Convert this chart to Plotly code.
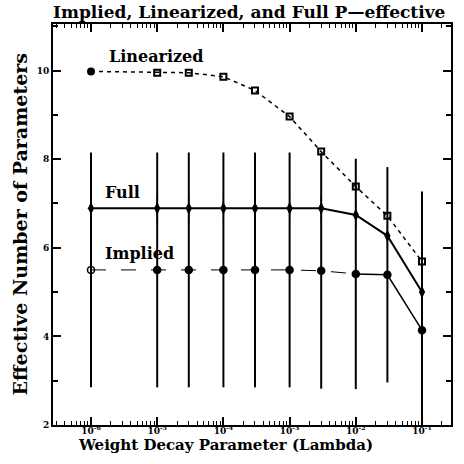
import plotly.graph_objects as go

# Data
lam = [1e-6, 1e-5, 3e-5, 1e-4, 3e-4, 1e-3, 3e-3, 1e-2, 3e-2, 1e-1]
linearized = [9.98, 9.95, 9.95, 9.86, 9.55, 8.96, 8.17, 7.38, 6.72, 5.69]
full = [6.89, 6.89, 6.89, 6.89, 6.89, 6.89, 6.89, 6.74, 6.27, 5.00]
full_err = [0.3, 0.3, 0.3, 0.3, 0.3, 0.3, 0.3, 0.3, 0.3, 0.3]
implied = [5.50, 5.50, 5.50, 5.50, 5.50, 5.50, 5.48, 5.41, 5.39, 4.14]
implied_err = [2.65, 2.65, 2.65, 2.65, 2.65, 2.65, 2.66, 2.6, 2.43, 3.13]
xtick_vals = [1e-6, 1e-5, 1e-4, 1e-3, 1e-2, 1e-1]
xtick_text = ["10<sup>-6</sup>", "10<sup>-5</sup>", "10<sup>-4</sup>",
              "10<sup>-3</sup>", "10<sup>-2</sup>", "10<sup>-1</sup>"]
ytick_vals = [2, 4, 6, 8, 10]
ytick_minor = [3, 5, 7, 9, 11]

FONT = "DejaVu Serif"
fig = go.Figure()

# Implied: error bars + dashed line for first part, solid afterwards
fig.add_trace(go.Scatter(
    x=lam, y=implied, mode="markers",
    error_y=dict(type="data", array=implied_err, visible=True, width=0,
                 thickness=2, color="black"),
    marker=dict(symbol=["circle-open"] + ["circle"] * 9, size=7, color="black",
                line=dict(color="black", width=1.5)),
    showlegend=False))
fig.add_trace(go.Scatter(
    x=lam[:8], y=implied[:8], mode="lines",
    line=dict(color="black", width=1, dash="longdash"), showlegend=False))
fig.add_trace(go.Scatter(
    x=lam[7:], y=implied[7:], mode="lines",
    line=dict(color="black", width=1.5), showlegend=False))

# Linearized
fig.add_trace(go.Scatter(
    x=lam, y=linearized, mode="lines+markers",
    line=dict(color="black", width=1.5, dash="4px,4px"),
    marker=dict(symbol=["circle"] + ["square-open"] * 9, size=6, color="black",
                line=dict(color="black", width=2)),
    showlegend=False))

# Full
fig.add_trace(go.Scatter(
    x=lam, y=full, mode="lines+markers",
    error_y=dict(type="data", array=full_err, visible=True, width=0,
                 thickness=1, color="black"),
    line=dict(color="black", width=2),
    marker=dict(symbol="diamond-tall", size=9, color="black"),
    showlegend=False))

axis_common = dict(showgrid=False, zeroline=False, showline=True, linecolor="black",
                   linewidth=2, mirror="allticks", ticks="inside", ticklen=8,
                   tickwidth=1.5, tickcolor="black",
                   tickfont=dict(family=FONT, size=9, color="black", weight="bold"))

fig.update_xaxes(type="log", range=[-6.574, -0.562], tickmode="array",
                 tickvals=xtick_vals, ticktext=xtick_text, ticklabelstandoff=-4,
                 minor=dict(tickvals=[m * 10.0 ** e for e in range(-7, 0) for m in range(2, 10)],
                            ticks="inside", ticklen=4, tickcolor="black", tickwidth=1),
                 **axis_common)
fig.update_yaxes(range=[2, 11.05], tickmode="array", tickvals=ytick_vals,
                 minor=dict(tickvals=ytick_minor, ticks="inside", ticklen=5,
                            tickcolor="black", tickwidth=1.5),
                 **axis_common)

fig.update_layout(
    width=464, height=464,
    margin=dict(l=53, r=13, t=24, b=39),
    plot_bgcolor="white", paper_bgcolor="white",
    title=dict(text="<b>Implied, Linearized, and Full P\u2014effective</b>",
               x=0.537, xanchor="center", y=0.974, yanchor="middle",
               font=dict(family=FONT, size=17, color="black")),
    annotations=[
        dict(text="<b>Weight Decay Parameter (Lambda)</b>", xref="paper", yref="paper",
             x=(225 - 53) / 398, y=-0.05, xanchor="center", yanchor="middle",
             showarrow=False, font=dict(family=FONT, size=15, color="black")),
        dict(text="<b>Effective Number of Parameters</b>", xref="paper", yref="paper",
             x=-0.083, y=0.5, xanchor="center", yanchor="middle", textangle=-90,
             showarrow=False, font=dict(family=FONT, size=19, color="black")),
        dict(text="<b>Linearized</b>", x=-5.76, y=10.31, xanchor="left", yanchor="middle",
             showarrow=False, font=dict(family=FONT, size=16, color="black")),
        dict(text="<b>Full</b>", x=-5.82, y=7.24, xanchor="left", yanchor="middle",
             showarrow=False, font=dict(family=FONT, size=16, color="black")),
        dict(text="<b>Implied</b>", x=-5.82, y=5.86, xanchor="left", yanchor="middle",
             showarrow=False, font=dict(family=FONT, size=16, color="black")),
    ],
)

fig.write_html("out.html", config={"displayModeBar": False},
               post_script="document.body.style.margin='0px';")
